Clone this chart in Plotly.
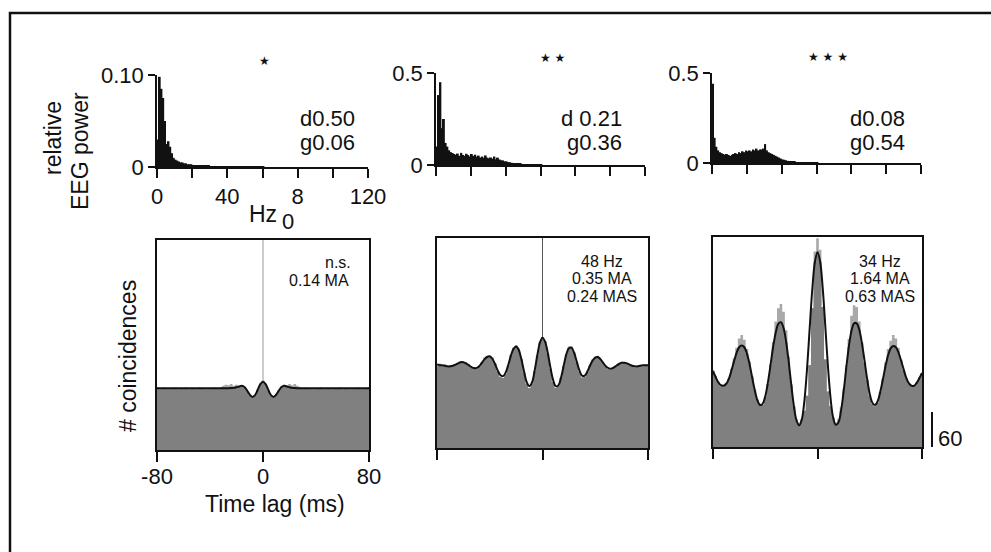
import numpy as np
import plotly.graph_objects as go

W, H = 991, 552
FONT = "Liberation Sans, Arial, Helvetica, sans-serif"
INK = "#111111"

# ---------------- data ----------------
freq_hz = list(range(0, 61))  # 1 Hz bins, 0..60 Hz
power_a = [0.030, 0.098, 0.085, 0.075, 0.050, 0.025, 0.028, 0.022, 0.015, 0.010,
           0.008, 0.007, 0.006, 0.005, 0.005, 0.004, 0.004, 0.003, 0.003, 0.003,
           0.002, 0.002, 0.002, 0.002, 0.002, 0.002, 0.002, 0.002, 0.002, 0.002,
           0.001, 0.001, 0.001, 0.001, 0.001, 0.001, 0.001, 0.001, 0.001, 0.001,
           0.001, 0.001, 0.001, 0.001, 0.001, 0.001, 0.001, 0.001, 0.001, 0.001,
           0.001, 0.001, 0.001, 0.001, 0.001, 0.001, 0.001, 0.001, 0.001, 0.001, 0.001]
power_b = [0.10, 0.38, 0.45, 0.20, 0.25, 0.12, 0.10, 0.08, 0.07, 0.065,
           0.060, 0.055, 0.062, 0.050, 0.066, 0.055, 0.050, 0.061, 0.054, 0.046,
           0.060, 0.050, 0.056, 0.045, 0.051, 0.041, 0.046, 0.040, 0.052, 0.040,
           0.036, 0.041, 0.035, 0.046, 0.031, 0.040, 0.030, 0.026, 0.025, 0.020,
           0.020, 0.016, 0.015, 0.012, 0.010, 0.010, 0.008, 0.007, 0.006, 0.005,
           0.005, 0.004, 0.004, 0.004, 0.003, 0.003, 0.003, 0.003, 0.002, 0.002, 0.002]
power_c = [0.44, 0.14, 0.09, 0.07, 0.06, 0.055, 0.05, 0.045, 0.05, 0.045,
           0.04, 0.045, 0.05, 0.055, 0.05, 0.06, 0.055, 0.065, 0.06, 0.07,
           0.065, 0.07, 0.065, 0.075, 0.07, 0.08, 0.07, 0.075, 0.075, 0.08,
           0.105, 0.07, 0.06, 0.055, 0.05, 0.045, 0.04, 0.035, 0.03, 0.025,
           0.02, 0.018, 0.015, 0.012, 0.01, 0.008, 0.007, 0.006, 0.005, 0.004,
           0.004, 0.003, 0.003, 0.003, 0.002, 0.002, 0.002, 0.002, 0.002, 0.001, 0.001]
power_max = [0.10, 0.5, 0.5]
power_top_label = ["0.10", "0.5", "0.5"]
freq_ticks = [0, 20, 40, 60, 80, 100, 120]
freq_ticktext = ["0", "", "40", "", "8", "", "120"]
stars = ["★", "★ ★", "★ ★ ★"]
delta_txt = ["d0.50", "d 0.21", "d0.08"]
gamma_txt = ["g0.06", "g0.36", "g0.54"]

lag_ms = list(range(-80, 81, 2))
hist_a = [108, 104, 105, 107, 104, 106, 105, 107, 104, 106,
          105, 107, 104, 106, 105, 104, 107, 105, 106, 104,
          106, 105, 107, 105, 108, 110, 112, 111, 113, 110,
          112, 110, 111, 107, 101, 94, 90, 93, 104, 114,
          119,
          113, 102, 93, 90, 95, 103, 109, 112, 111, 113,
          111, 113, 110, 108, 106, 107, 105, 106, 104, 106,
          105, 107, 104, 106, 105, 104, 106, 105, 107, 104,
          106, 105, 104, 106, 105, 107, 104, 106, 105, 108]
fit_a = [106, 106, 106, 106, 106, 106, 106, 106, 106, 106,
         106, 106, 106, 106, 106, 106, 106, 106, 106, 106,
         106, 106, 106, 106, 106, 106, 106, 106, 106.2, 106.5,
         107.5, 109, 110, 108, 102, 95, 91, 94, 103, 113,
         117,
         113, 103, 94, 91, 95, 102, 108, 110, 109, 107.5,
         106.5, 106.2, 106, 106, 106, 106, 106, 106, 106, 106,
         106, 106, 106, 106, 106, 106, 106, 106, 106, 106,
         106, 106, 106, 106, 106, 106, 106, 106, 106, 106]
hist_b = [140, 145, 141, 143, 139, 142, 140, 144, 146, 149,
          148, 147, 143, 138, 136, 135, 139, 147, 155, 158,
          159, 155, 146, 131, 122, 120, 127, 141, 160, 172,
          176, 170, 153, 129, 110, 103, 110, 131, 160, 183,
          190,
          184, 162, 136, 113, 103, 106, 121, 141, 161, 174,
          174, 164, 147, 131, 121, 122, 130, 142, 152, 157,
          158, 153, 145, 139, 135, 134, 137, 141, 146, 148,
          147, 145, 142, 140, 138, 139, 141, 140, 143, 141]
fit_b = [143, 142, 142, 141, 140, 140, 141, 143, 145, 147,
         147, 145, 142, 139, 137, 137, 140, 146, 152, 156,
         157, 153, 144, 133, 125, 123, 129, 142, 158, 170,
         174, 168, 152, 131, 113, 106, 112, 132, 158, 180,
         189,
         182, 163, 138, 117, 106, 107, 120, 140, 160, 171,
         172, 163, 148, 133, 124, 124, 131, 141, 150, 155,
         156, 152, 146, 140, 137, 136, 138, 141, 144, 146,
         146, 145, 143, 141, 140, 140, 141, 142, 142, 142]
hist_c = [132, 122, 112, 104, 104, 110, 118, 134, 152, 170,
          186, 192, 184, 168, 146, 122, 99, 82, 74, 72,
          86, 108, 142, 180, 215, 238, 245, 232, 200, 155,
          108, 70, 48, 42, 48, 62, 88, 140, 238, 335,
          358,
          338, 240, 150, 95, 70, 50, 42, 48, 68, 100,
          140, 185, 225, 243, 240, 215, 180, 145, 115, 88,
          74, 70, 76, 95, 118, 145, 168, 182, 192, 186,
          170, 150, 132, 118, 108, 104, 106, 112, 120, 126]
fit_c = [130, 120, 111, 106, 105, 108, 116, 130, 146, 161,
         171, 174, 171, 160, 142, 119, 97, 80, 72, 74,
         87, 110, 140, 171, 196, 211, 214, 204, 180, 145,
         105, 69, 45, 37, 47, 80, 134, 203, 270, 317,
         334,
         318, 272, 206, 138, 84, 50, 38, 42, 62, 95,
         135, 172, 199, 212, 212, 201, 178, 148, 117, 91,
         76, 72, 78, 94, 115, 138, 157, 169, 173, 171,
         162, 148, 133, 118, 109, 105, 105, 110, 118, 127]
lag_ticks = [-80, 0, 80]
lag_ticktext = ["-80", "0", "80"]
count_max = 360
scale_bar_counts = 60
corr_text = [["n.s.", "0.14 MA"], ["48 Hz", "0.35 MA", "0.24 MAS"], ["34 Hz", "1.64 MA", "0.63 MAS"]]

# ---------------- layout helpers ----------------
def fx(p):
    return p / W


def fy(p):
    return 1 - p / H


def sfx(n):
    return "" if n == 1 else str(n)


def label(x, y, text, size, xanchor="center", angle=0, family=None):
    font = dict(size=size, color=INK)
    if family:
        font["family"] = family
    return dict(x=fx(x), y=fy(y), xref="paper", yref="paper", text=text, textangle=angle,
                xanchor=xanchor, yanchor="middle", showarrow=False, font=font)


top_boxes = [(157, 368, 75, 167), (436, 645, 73, 165), (712, 921, 73, 163)]
bot_boxes = [(157, 369, 240, 450), (437, 648, 238, 448), (713, 922, 237, 447)]

fig = go.Figure()
layout = dict(
    width=W, height=H, margin=dict(l=0, r=0, t=0, b=0, autoexpand=False),
    paper_bgcolor="white", plot_bgcolor="white",
    barmode="overlay", showlegend=False,
    font=dict(family=FONT, color=INK, size=22),
)
annotations = []
shapes = []

tickfont = dict(family=FONT, size=22, color=INK)

# top: EEG power spectra
for i, (pw, ymax, ylab) in enumerate(zip([power_a, power_b, power_c], power_max, power_top_label)):
    n = i + 1
    l, r, t, b = top_boxes[i]
    fig.add_trace(go.Bar(x=freq_hz, y=pw, width=1.08, offset=0,
                         marker=dict(color=INK, line=dict(width=0)),
                         xaxis="x" + sfx(n), yaxis="y" + sfx(n), hoverinfo="skip"))
    layout["xaxis" + sfx(n)] = dict(
        domain=[fx(l), fx(r)], range=[0, 120], anchor="y" + sfx(n), automargin=False,
        showline=True, linecolor=INK, linewidth=1.5, ticks="outside", ticklen=9,
        tickwidth=1.5, tickcolor=INK, tickvals=freq_ticks, ticktext=freq_ticktext,
        showticklabels=(n == 1), showgrid=False, zeroline=False, tickfont=tickfont,
        ticklabelstandoff=0)
    layout["yaxis" + sfx(n)] = dict(
        domain=[fy(b), fy(t)], range=[0, ymax], anchor="x" + sfx(n), automargin=False,
        showline=True, linecolor=INK, linewidth=1.5, ticks="outside", ticklen=7,
        tickwidth=1.5, tickcolor=INK, tickvals=[0, ymax], ticktext=["0", ylab],
        showgrid=False, zeroline=False, tickfont=tickfont, ticklabelstandoff=0)

# top texts
star_pos = [(264, 61), (552, 58), (828, 57)]
for (x, y), s in zip(star_pos, stars):
    annotations.append(label(x, y, s, 12, family="DejaVu Sans"))
dg_right = [357, 624, 907]
for xr, d, g in zip(dg_right, delta_txt, gamma_txt):
    annotations.append(label(xr, 118, d, 22, xanchor="right"))
    annotations.append(label(xr, 143, g, 22, xanchor="right"))
annotations.append(label(279, 214, "Hz", 23, xanchor="right"))
annotations.append(label(280, 221, "0", 22, xanchor="left"))
annotations.append(label(53, 138, "relative", 23, angle=-90))
annotations.append(label(80, 151, "EEG power", 23, angle=-90))

# bottom: cross-correlograms
hists = [hist_a, hist_b, hist_c]
fits = [fit_a, fit_b, fit_c]
zero_line_col = ["#999999", "#555555", None]
for i in range(3):
    n = i + 4
    l, r, t, b = bot_boxes[i]
    h = np.array(hists[i], dtype=float)
    f = np.array(fits[i], dtype=float)
    xa, ya = "x" + sfx(n), "y" + sfx(n)
    fig.add_trace(go.Scatter(x=lag_ms, y=h, mode="lines", line=dict(width=0, shape="hvh"),
                             fill="tozeroy", fillcolor="#a9a9a9",
                             xaxis=xa, yaxis=ya, hoverinfo="skip"))
    fig.add_trace(go.Scatter(x=lag_ms, y=np.minimum(h, f), mode="lines", line=dict(width=0, shape="hvh"),
                             fill="tozeroy", fillcolor="#808080",
                             xaxis=xa, yaxis=ya, hoverinfo="skip"))
    fig.add_trace(go.Scatter(x=lag_ms, y=f, mode="lines", line=dict(color=INK, width=2, shape="spline"),
                             xaxis=xa, yaxis=ya, hoverinfo="skip"))
    layout["xaxis" + sfx(n)] = dict(
        domain=[fx(l), fx(r)], range=[-80, 80], anchor=ya, automargin=False,
        showline=True, mirror=True, linecolor=INK, linewidth=1.5, ticks="outside", ticklen=10,
        tickwidth=1.5, tickcolor=INK, tickvals=lag_ticks, ticktext=lag_ticktext,
        showticklabels=(n == 4), showgrid=False, zeroline=False, tickfont=tickfont,
        ticklabelstandoff=-4)
    layout["yaxis" + sfx(n)] = dict(
        domain=[fy(b), fy(t)], range=[0, count_max], anchor=xa, automargin=False,
        showline=True, mirror=True, linecolor=INK, linewidth=1.5, ticks="",
        showticklabels=False, showgrid=False, zeroline=False)
    if zero_line_col[i]:
        shapes.append(dict(type="line", xref=xa, yref=ya + " domain", x0=0, x1=0, y0=0, y1=1,
                           line=dict(color=zero_line_col[i], width=1), layer="below"))

# bottom texts
annotations.append(label(353, 262, corr_text[0][0], 16, xanchor="right"))
annotations.append(label(351, 280, corr_text[0][1], 16, xanchor="right"))
for cx, lines in zip([602, 880], corr_text[1:]):
    for k, txt in enumerate(lines):
        annotations.append(label(cx, 261 + 17.5 * k, txt, 16))
annotations.append(label(275, 504, "Time lag (ms)", 23))
annotations.append(label(128, 356, "# coincidences", 23, angle=-90))

# scale bar
shapes.append(dict(type="line", xref="paper", yref="y6", x0=fx(932), x1=fx(932), y0=0, y1=scale_bar_counts,
                   line=dict(color=INK, width=2)))
annotations.append(dict(x=fx(936), y=scale_bar_counts / 4, xref="paper", yref="y6", text=str(scale_bar_counts),
                        xanchor="left", yanchor="middle", showarrow=False, font=dict(size=22, color=INK)))

# outer frame
shapes.append(dict(type="rect", xref="paper", yref="paper", x0=fx(10), x1=1.05, y0=-0.05, y1=fy(13),
                   line=dict(color=INK, width=2.5)))

layout["annotations"] = annotations
layout["shapes"] = shapes
fig.update_layout(**layout)

fig.write_html("out.html", config={"displayModeBar": False},
               post_script="document.body.style.margin='0';document.body.style.overflow='hidden';")
